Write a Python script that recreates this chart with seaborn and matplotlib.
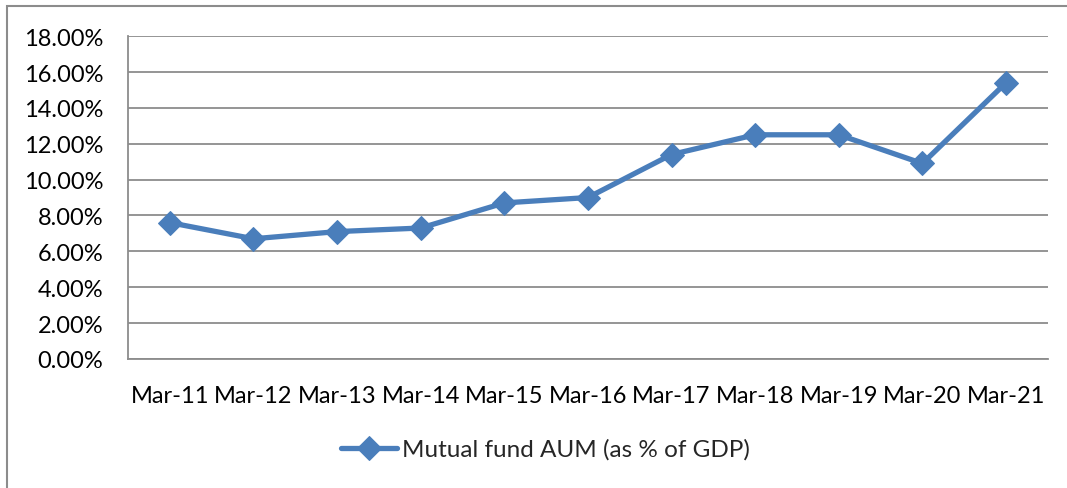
import pandas as pd
import matplotlib
matplotlib.use("Agg")
import matplotlib.pyplot as plt
import matplotlib.patches as mpatches
import seaborn as sns
from matplotlib.ticker import FuncFormatter

periods = ["Mar-11", "Mar-12", "Mar-13", "Mar-14", "Mar-15", "Mar-16",
           "Mar-17", "Mar-18", "Mar-19", "Mar-20", "Mar-21"]
aum_pct_gdp = [7.6, 6.7, 7.1, 7.3, 8.7, 9.0, 11.4, 12.5, 12.5, 10.9, 15.4]
series_name = "Mutual fund AUM (as % of GDP)"

df = pd.DataFrame({"period": periods, "value": aum_pct_gdp})
df["series"] = series_name

sns.set_style("white")
plt.rcParams["font.family"] = ["Lato", "DejaVu Sans"]

fig = plt.figure(figsize=(10.67, 4.89), dpi=100)
ax = fig.add_axes([0.12, 0.264, 0.862, 0.66])

line_color = "#4A7EBB"
sns.lineplot(data=df, x="period", y="value", hue="series", sort=False,
             palette=[line_color], marker="D", markersize=12,
             markeredgecolor=line_color, linewidth=3.8, ax=ax)

ax.set_xlim(-0.5, len(periods) - 0.5)
ax.set_ylim(0, 18)
ax.set_yticks(range(0, 19, 2))
ax.yaxis.set_major_formatter(FuncFormatter(lambda v, p: "{:.2f}%".format(v)))
ax.grid(axis="y", color="#8C8C8C", linewidth=1.3)
ax.set_axisbelow(True)
for s in ["top", "right"]:
    ax.spines[s].set_visible(False)
for s in ["left", "bottom"]:
    ax.spines[s].set_color("#8C8C8C")
    ax.spines[s].set_linewidth(1.3)
ax.tick_params(axis="both", labelsize=17, length=0, colors="black")
ax.tick_params(axis="x", pad=19)
ax.tick_params(axis="y", pad=18)
ax.set_xlabel("")
ax.set_ylabel("")

leg = ax.legend(loc="center", bbox_to_anchor=(0.454, -0.28), frameon=False,
                fontsize=17.5, handlelength=2.3, handletextpad=0.2)
for h in leg.legend_handles:
    h.set_linewidth(3.8)

# outer chart frame
fig.patches.append(mpatches.Rectangle((0.007, -0.01), 1.0, 0.996,
                                      transform=fig.transFigure, fill=False,
                                      edgecolor="#8C8C8C", linewidth=1.5))

fig.savefig("out.png", dpi=100)
